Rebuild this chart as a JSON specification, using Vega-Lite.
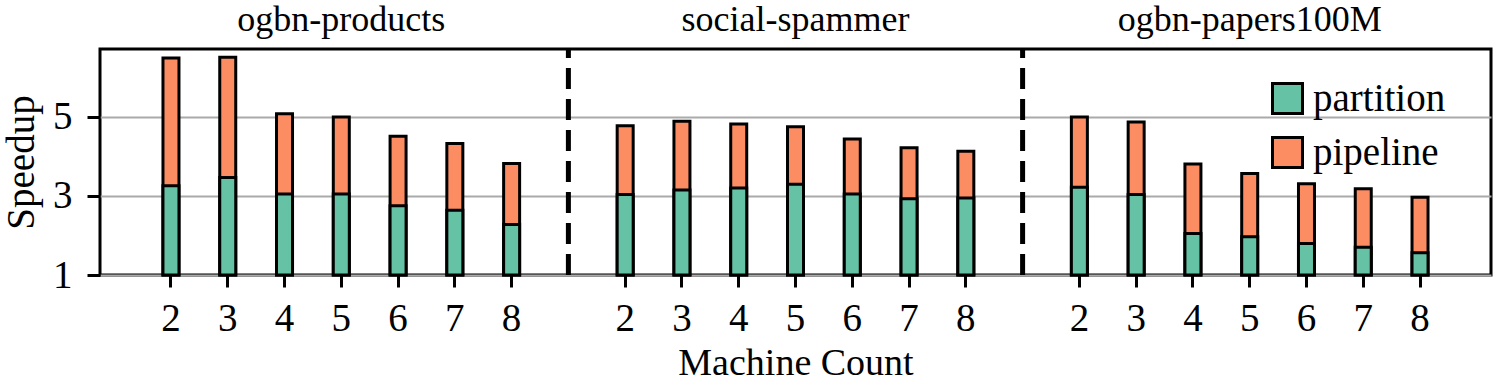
{
  "$schema": "https://vega.github.io/schema/vega-lite/v6.json",
  "width": 1391,
  "height": 226,
  "autosize": {"type": "none"},
  "padding": {"left": 100, "top": 49, "right": 4, "bottom": 108},
  "background": "white",
  "config": {
    "font": "Liberation Serif",
    "view": {"stroke": "black", "strokeWidth": 3},
    "axis": {
      "labelFont": "Liberation Serif",
      "titleFont": "Liberation Serif",
      "labelFontSize": 39,
      "titleFontSize": 39,
      "labelColor": "black",
      "titleColor": "black",
      "titleFontWeight": "normal",
      "tickColor": "black",
      "tickWidth": 3,
      "labelLimit": 0,
      "domain": false
    }
  },
  "datasets": {
    "bars": [
      {"dataset": "ogbn-products", "machines": 2, "bar": "ogbn-products/2", "series": "pipeline", "speedup": 6.49},
      {"dataset": "ogbn-products", "machines": 3, "bar": "ogbn-products/3", "series": "pipeline", "speedup": 6.51},
      {"dataset": "ogbn-products", "machines": 4, "bar": "ogbn-products/4", "series": "pipeline", "speedup": 5.08},
      {"dataset": "ogbn-products", "machines": 5, "bar": "ogbn-products/5", "series": "pipeline", "speedup": 5.0},
      {"dataset": "ogbn-products", "machines": 6, "bar": "ogbn-products/6", "series": "pipeline", "speedup": 4.51},
      {"dataset": "ogbn-products", "machines": 7, "bar": "ogbn-products/7", "series": "pipeline", "speedup": 4.33},
      {"dataset": "ogbn-products", "machines": 8, "bar": "ogbn-products/8", "series": "pipeline", "speedup": 3.82},
      {"dataset": "social-spammer", "machines": 2, "bar": "social-spammer/2", "series": "pipeline", "speedup": 4.78},
      {"dataset": "social-spammer", "machines": 3, "bar": "social-spammer/3", "series": "pipeline", "speedup": 4.89},
      {"dataset": "social-spammer", "machines": 4, "bar": "social-spammer/4", "series": "pipeline", "speedup": 4.82},
      {"dataset": "social-spammer", "machines": 5, "bar": "social-spammer/5", "series": "pipeline", "speedup": 4.75},
      {"dataset": "social-spammer", "machines": 6, "bar": "social-spammer/6", "series": "pipeline", "speedup": 4.44},
      {"dataset": "social-spammer", "machines": 7, "bar": "social-spammer/7", "series": "pipeline", "speedup": 4.22},
      {"dataset": "social-spammer", "machines": 8, "bar": "social-spammer/8", "series": "pipeline", "speedup": 4.13},
      {"dataset": "ogbn-papers100M", "machines": 2, "bar": "ogbn-papers100M/2", "series": "pipeline", "speedup": 5.0},
      {"dataset": "ogbn-papers100M", "machines": 3, "bar": "ogbn-papers100M/3", "series": "pipeline", "speedup": 4.87},
      {"dataset": "ogbn-papers100M", "machines": 4, "bar": "ogbn-papers100M/4", "series": "pipeline", "speedup": 3.81},
      {"dataset": "ogbn-papers100M", "machines": 5, "bar": "ogbn-papers100M/5", "series": "pipeline", "speedup": 3.57},
      {"dataset": "ogbn-papers100M", "machines": 6, "bar": "ogbn-papers100M/6", "series": "pipeline", "speedup": 3.31},
      {"dataset": "ogbn-papers100M", "machines": 7, "bar": "ogbn-papers100M/7", "series": "pipeline", "speedup": 3.18},
      {"dataset": "ogbn-papers100M", "machines": 8, "bar": "ogbn-papers100M/8", "series": "pipeline", "speedup": 2.97},
      {"dataset": "ogbn-products", "machines": 2, "bar": "ogbn-products/2", "series": "partition", "speedup": 3.26},
      {"dataset": "ogbn-products", "machines": 3, "bar": "ogbn-products/3", "series": "partition", "speedup": 3.47},
      {"dataset": "ogbn-products", "machines": 4, "bar": "ogbn-products/4", "series": "partition", "speedup": 3.05},
      {"dataset": "ogbn-products", "machines": 5, "bar": "ogbn-products/5", "series": "partition", "speedup": 3.05},
      {"dataset": "ogbn-products", "machines": 6, "bar": "ogbn-products/6", "series": "partition", "speedup": 2.75},
      {"dataset": "ogbn-products", "machines": 7, "bar": "ogbn-products/7", "series": "partition", "speedup": 2.64},
      {"dataset": "ogbn-products", "machines": 8, "bar": "ogbn-products/8", "series": "partition", "speedup": 2.28},
      {"dataset": "social-spammer", "machines": 2, "bar": "social-spammer/2", "series": "partition", "speedup": 3.04},
      {"dataset": "social-spammer", "machines": 3, "bar": "social-spammer/3", "series": "partition", "speedup": 3.15},
      {"dataset": "social-spammer", "machines": 4, "bar": "social-spammer/4", "series": "partition", "speedup": 3.2},
      {"dataset": "social-spammer", "machines": 5, "bar": "social-spammer/5", "series": "partition", "speedup": 3.3},
      {"dataset": "social-spammer", "machines": 6, "bar": "social-spammer/6", "series": "partition", "speedup": 3.05},
      {"dataset": "social-spammer", "machines": 7, "bar": "social-spammer/7", "series": "partition", "speedup": 2.93},
      {"dataset": "social-spammer", "machines": 8, "bar": "social-spammer/8", "series": "partition", "speedup": 2.95},
      {"dataset": "ogbn-papers100M", "machines": 2, "bar": "ogbn-papers100M/2", "series": "partition", "speedup": 3.22},
      {"dataset": "ogbn-papers100M", "machines": 3, "bar": "ogbn-papers100M/3", "series": "partition", "speedup": 3.04},
      {"dataset": "ogbn-papers100M", "machines": 4, "bar": "ogbn-papers100M/4", "series": "partition", "speedup": 2.05},
      {"dataset": "ogbn-papers100M", "machines": 5, "bar": "ogbn-papers100M/5", "series": "partition", "speedup": 1.97},
      {"dataset": "ogbn-papers100M", "machines": 6, "bar": "ogbn-papers100M/6", "series": "partition", "speedup": 1.8},
      {"dataset": "ogbn-papers100M", "machines": 7, "bar": "ogbn-papers100M/7", "series": "partition", "speedup": 1.7},
      {"dataset": "ogbn-papers100M", "machines": 8, "bar": "ogbn-papers100M/8", "series": "partition", "speedup": 1.56}
    ],
    "separators": [
      {"bar": "|1"},
      {"bar": "|2"}
    ]
  },
  "layer": [
    {
      "data": {"name": "bars"},
      "mark": {"type": "bar", "width": 16, "stroke": "black", "strokeWidth": 3},
      "encoding": {
        "x": {
          "field": "bar",
          "type": "nominal",
          "sort": null,
          "scale": {
            "domain": ["ogbn-products/2", "ogbn-products/3", "ogbn-products/4", "ogbn-products/5", "ogbn-products/6", "ogbn-products/7", "ogbn-products/8", "|1",
                       "social-spammer/2", "social-spammer/3", "social-spammer/4", "social-spammer/5", "social-spammer/6", "social-spammer/7", "social-spammer/8", "|2",
                       "ogbn-papers100M/2", "ogbn-papers100M/3", "ogbn-papers100M/4", "ogbn-papers100M/5", "ogbn-papers100M/6", "ogbn-papers100M/7", "ogbn-papers100M/8"],
            "paddingInner": 0,
            "paddingOuter": 0.75
          },
          "axis": {
            "orient": "bottom",
            "values": ["ogbn-products/2", "ogbn-products/3", "ogbn-products/4", "ogbn-products/5", "ogbn-products/6", "ogbn-products/7", "ogbn-products/8",
                       "social-spammer/2", "social-spammer/3", "social-spammer/4", "social-spammer/5", "social-spammer/6", "social-spammer/7", "social-spammer/8",
                       "ogbn-papers100M/2", "ogbn-papers100M/3", "ogbn-papers100M/4", "ogbn-papers100M/5", "ogbn-papers100M/6", "ogbn-papers100M/7", "ogbn-papers100M/8"],
            "labelExpr": "split(datum.value, '/')[1]",
            "labelAngle": 0,
            "tickSize": 12,
            "labelPadding": 12,
            "grid": false,
            "title": "Machine Count",
            "titleFontSize": 38,
            "titlePadding": 6
          }
        },
        "y": {
          "field": "speedup",
          "type": "quantitative",
          "scale": {"domain": [1, 6.72], "nice": false, "zero": false},
          "axis": {
            "values": [1, 3, 5],
            "tickSize": 13,
            "labelPadding": 15,
            "title": "Speedup",
            "titlePadding": 11,
            "grid": true,
            "gridColor": "#aaaaaa",
            "gridWidth": 2
          }
        },
        "y2": {"datum": 1},
        "color": {
          "field": "series",
          "type": "nominal",
          "scale": {"domain": ["partition", "pipeline"], "range": ["#66c2a5", "#fc8d62"]},
          "legend": {
            "orient": "none",
            "legendX": 1168,
            "legendY": 30,
            "title": null,
            "symbolType": "square",
            "symbolSize": 900,
            "symbolStrokeColor": "black",
            "symbolStrokeWidth": 3,
            "symbolOpacity": 1,
            "labelFont": "Liberation Serif",
            "labelFontSize": 39,
            "labelColor": "black",
            "labelOffset": 6,
            "labelLimit": 0,
            "rowPadding": 11,
            "padding": 0
          }
        }
      }
    },
    {
      "data": {"name": "separators"},
      "mark": {"type": "rule", "color": "black", "strokeWidth": 5, "strokeDash": [21, 10]},
      "encoding": {
        "x": {
          "field": "bar",
          "type": "nominal",
          "sort": null,
          "scale": {
            "domain": ["ogbn-products/2", "ogbn-products/3", "ogbn-products/4", "ogbn-products/5", "ogbn-products/6", "ogbn-products/7", "ogbn-products/8", "|1",
                       "social-spammer/2", "social-spammer/3", "social-spammer/4", "social-spammer/5", "social-spammer/6", "social-spammer/7", "social-spammer/8", "|2",
                       "ogbn-papers100M/2", "ogbn-papers100M/3", "ogbn-papers100M/4", "ogbn-papers100M/5", "ogbn-papers100M/6", "ogbn-papers100M/7", "ogbn-papers100M/8"],
            "paddingInner": 0,
            "paddingOuter": 0.75
          },
          "axis": {
            "orient": "top",
            "values": ["ogbn-products/5", "social-spammer/5", "ogbn-papers100M/5"],
            "labelExpr": "split(datum.value, '/')[0]",
            "labelAngle": 0,
            "ticks": false,
            "tickSize": 0,
            "labelPadding": 11,
            "labelFontSize": 36,
            "grid": false,
            "title": null
          }
        },
        "y": {
          "datum": 1,
          "type": "quantitative",
          "scale": {"domain": [1, 6.72], "nice": false, "zero": false},
          "axis": {
            "values": [1, 3, 5],
            "tickSize": 13,
            "labelPadding": 15,
            "title": "Speedup",
            "titlePadding": 11,
            "grid": true,
            "gridColor": "#aaaaaa",
            "gridWidth": 2
          }
        },
        "y2": {"datum": 6.72}
      }
    }
  ]
}
